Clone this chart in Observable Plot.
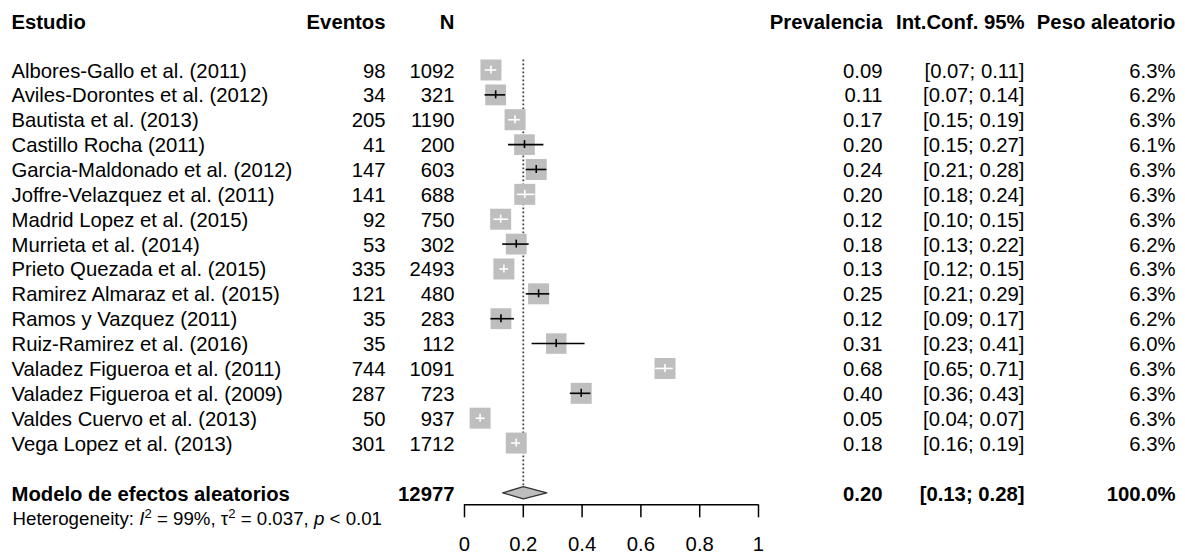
<!DOCTYPE html>
<html>
<head>
<meta charset="utf-8">
<script src="https://cdn.jsdelivr.net/npm/d3@7"></script>
<script src="https://cdn.jsdelivr.net/npm/@observablehq/plot@0.6"></script>
<style>
  html, body { margin: 0; padding: 0; background: #fff; }
  #chart svg { font-family: "Liberation Sans", Arial, sans-serif; display: block; }
</style>
</head>
<body>
<div id="chart"></div>
<script>
// ---- data ----
const studies = [
  "Albores-Gallo et al. (2011)",
  "Aviles-Dorontes et al. (2012)",
  "Bautista et al. (2013)",
  "Castillo Rocha (2011)",
  "Garcia-Maldonado et al. (2012)",
  "Joffre-Velazquez et al. (2011)",
  "Madrid Lopez et al. (2015)",
  "Murrieta et al. (2014)",
  "Prieto Quezada et al. (2015)",
  "Ramirez Almaraz et al. (2015)",
  "Ramos y Vazquez (2011)",
  "Ruiz-Ramirez et al. (2016)",
  "Valadez Figueroa et al. (2011)",
  "Valadez Figueroa et al. (2009)",
  "Valdes Cuervo et al. (2013)",
  "Vega Lopez et al. (2013)"
];
const events = [98, 34, 205, 41, 147, 141, 92, 53, 335, 121, 35, 35, 744, 287, 50, 301];
const totals = [1092, 321, 1190, 200, 603, 688, 750, 302, 2493, 480, 283, 112, 1091, 723, 937, 1712];
const prevalence = [0.090, 0.106, 0.172, 0.204, 0.244, 0.205, 0.123, 0.176, 0.134, 0.252, 0.124, 0.312, 0.682, 0.397, 0.053, 0.176];
const ciLower = [0.07, 0.07, 0.15, 0.15, 0.21, 0.18, 0.10, 0.13, 0.12, 0.21, 0.09, 0.23, 0.65, 0.36, 0.04, 0.16];
const ciUpper = [0.11, 0.14, 0.19, 0.27, 0.28, 0.24, 0.15, 0.22, 0.15, 0.29, 0.17, 0.41, 0.71, 0.43, 0.07, 0.19];
const weights = [6.3, 6.2, 6.3, 6.1, 6.3, 6.3, 6.3, 6.2, 6.3, 6.3, 6.2, 6.0, 6.3, 6.3, 6.3, 6.3];

const summaryLabel = "Modelo de efectos aleatorios";
const summaryN = 12977;
const summaryEst = 0.20;
const summaryLower = 0.13;
const summaryUpper = 0.28;
const summaryWeight = 100.0;

const headers = ["Estudio", "Eventos", "N", "Prevalencia", "Int.Conf. 95%", "Peso aleatorio"];
const xTicks = [0, 0.2, 0.4, 0.6, 0.8, 1];
const heterogeneity = "Heterogeneity: I2 = 99%, τ2 = 0.037, p < 0.01";

// ---- layout ----
const W = 1185, H = 554;
const FONT = 20.3;
const boxSide = 21;                 // px side of a 6.3% square
const plotLeft = 464, plotRight = 758; // pixel span of the 0..1 data range
const pxPerUnit = plotRight - plotLeft;
const toX = px => (px - plotLeft) / pxPerUnit;   // pixel column -> x-scale units
const rowHeader = -1, rowSummary = 18, rowHet = 19, axisRow = 18.48;

const fmt2 = v => v.toFixed(2);
const ciText = (l, u) => `[${fmt2(l)}; ${fmt2(u)}]`;
const halfBox = w => (boxSide * Math.sqrt(w / 6.3)) / 2 / pxPerUnit;

const rows = studies.map((s, i) => {
  const p = prevalence[i], lo = ciLower[i], hi = ciUpper[i], w = weights[i];
  const h = halfBox(w);
  return {
    row: i + 1, study: s, events: String(events[i]), n: String(totals[i]),
    p, lo, hi, w,
    prev: fmt2(p), ci: ciText(lo, hi), weight: w.toFixed(1) + "%",
    inside: lo >= p - h && hi <= p + h
  };
});

const summaryRow = [{
  row: rowSummary, study: summaryLabel, events: "", n: String(summaryN),
  prev: fmt2(summaryEst), ci: ciText(summaryLower, summaryUpper), weight: summaryWeight.toFixed(1) + "%"
}];

const diamondHalf = 0.245;
const diamond = [
  {x: summaryLower, y: rowSummary},
  {x: summaryEst, y: rowSummary - diamondHalf},
  {x: summaryUpper, y: rowSummary},
  {x: summaryEst, y: rowSummary + diamondHalf},
  {x: summaryLower, y: rowSummary}
];

// text columns: [field, anchor pixel, textAnchor]
const columns = [
  ["study", 11, "start"],
  ["events", 385, "end"],
  ["n", 454, "end"],
  ["prev", 882, "end"],
  ["ci", 1024, "end"],
  ["weight", 1175, "end"]
];
const headerRows = headers.map((h, i) => ({row: rowHeader, label: h, col: i}));

const textMarks = [];
columns.forEach(([field, px, anchor], ci) => {
  const cx = toX(px);
  textMarks.push(Plot.text(rows, {
    x: () => cx, y: "row", text: field, dy: 1,
    textAnchor: anchor, fontSize: FONT, fill: "#000"
  }));
  textMarks.push(Plot.text(summaryRow, {
    x: () => cx, y: "row", text: field, dy: 2,
    textAnchor: anchor, fontSize: FONT, fontWeight: "bold", fill: "#000"
  }));
  textMarks.push(Plot.text(headerRows.filter(d => d.col === ci), {
    x: () => cx, y: "row", text: "label", dy: 2,
    textAnchor: anchor, fontSize: FONT, fontWeight: "bold", fill: "#000"
  }));
});

const chart = Plot.plot({
  width: W,
  height: H,
  marginTop: 0,
  marginLeft: 0,
  marginRight: 0,
  marginBottom: H - 504.3,
  style: {fontFamily: '"Liberation Sans", Arial, sans-serif', background: "#fff"},
  x: {domain: [toX(0), toX(W)], range: [0, W]},
  y: {domain: [-1, 19], range: [19.76, 517.16], axis: null},
  r: {type: "sqrt", domain: [0, 6.3], range: [0, boxSide / Math.sqrt(Math.PI)]},
  marks: [
    // reference line at pooled estimate
    Plot.ruleX([summaryEst], {x: d => d, y1: 0.6, y2: rowSummary - diamondHalf, stroke: "#444", strokeWidth: 1.8, strokeDasharray: "1.8,2.2"}),
    // weighted squares
    Plot.dot(rows, {x: "p", y: "row", r: "w", symbol: "square", fill: "#bebebe", stroke: "none"}),
    // confidence intervals
    Plot.ruleY(rows.filter(d => !d.inside), {y: "row", x1: "lo", x2: "hi", stroke: "#000", strokeWidth: 1.6}),
    Plot.ruleY(rows.filter(d => d.inside), {y: "row", x1: "lo", x2: "hi", stroke: "#fff", strokeWidth: 1.6}),
    Plot.ruleX(rows.filter(d => !d.inside), {x: "p", y1: d => d.row - 0.16, y2: d => d.row + 0.16, stroke: "#000", strokeWidth: 1.6}),
    Plot.ruleX(rows.filter(d => d.inside), {x: "p", y1: d => d.row - 0.16, y2: d => d.row + 0.16, stroke: "#fff", strokeWidth: 1.6}),
    // pooled diamond
    Plot.line(diamond, {x: "x", y: "y", fill: "#bebebe", stroke: "#333", strokeWidth: 1.3}),
    // x axis
    Plot.ruleY([axisRow], {y: d => d, x1: 0, x2: 1, stroke: "#000", strokeWidth: 1.5}),
    Plot.axisX(xTicks, {tickSize: 13, tickPadding: 19, tickFormat: d => String(d), fontSize: FONT, stroke: "#000", strokeWidth: 1.5, label: null, fill: "#000"}),
    ...textMarks,
    Plot.text([heterogeneity], {x: () => toX(12), y: () => rowHet, text: d => d, dy: 1.5, textAnchor: "start", fontSize: 18.7, fill: "#000", className: "het"})
  ]
});

document.getElementById("chart").appendChild(chart);

// rich formatting of the heterogeneity line (italic symbols, superscripts)
const hetText = d3.select(chart).select(".het text");
if (!hetText.empty()) {
  hetText.text(null);
  const parts = [
    ["Heterogeneity: ", {}],
    ["I", {"font-style": "italic"}],
    ["2", {"baseline-shift": "super", "font-size": "70%"}],
    [" = 99%, τ", {}],
    ["2", {"baseline-shift": "super", "font-size": "70%"}],
    [" = 0.037, ", {}],
    ["p", {"font-style": "italic"}],
    [" < 0.01", {}]
  ];
  for (const [t, attrs] of parts) {
    const ts = hetText.append("tspan").text(t);
    for (const k in attrs) ts.attr(k, attrs[k]);
  }
}
</script>
</body>
</html>
